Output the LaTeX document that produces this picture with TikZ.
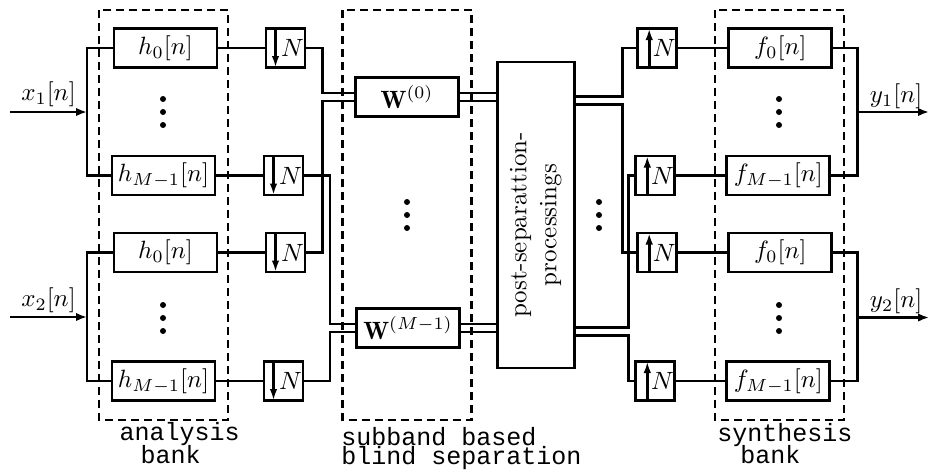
\documentclass[tikz,border=0pt]{standalone}
\usepackage{amsmath,amssymb}
\usepackage{fontspec}
\setmonofont{Liberation Mono}
\usepackage{tikz}
\usetikzlibrary{arrows.meta,positioning,calc}

\begin{document}
\begin{tikzpicture}[x=0.4pt,y=-0.4pt,line width=1.15pt,>={Latex[length=4.4pt,width=3.4pt]},
  filt/.style={draw,minimum width=41.2pt,minimum height=15.6pt,inner sep=1pt},
  wbox/.style={draw,minimum width=41.4pt,minimum height=15.4pt,inner sep=1pt},
  dnsamp/.style={draw,minimum height=15.6pt,inner sep=0.4pt,text width=14.8pt,align=right,
    path picture={\draw[-{Latex[length=4.6pt,width=3pt]},line width=1.1pt]
      ([xshift=3.8pt]path picture bounding box.north west) -- ([xshift=3.8pt]path picture bounding box.south west);}},
  upsamp/.style={draw,minimum height=15.6pt,inner sep=0.4pt,text width=14.8pt,align=right,
    path picture={\draw[-{Latex[length=4.6pt,width=3pt]},line width=1.1pt]
      ([xshift=4.6pt]path picture bounding box.south west) -- ([xshift=4.6pt]path picture bounding box.north west);}},
  bankbox/.style={draw,dash pattern=on 3.2pt off 2pt},
  banklbl/.style={font=\ttfamily,align=left,inner sep=0pt,anchor=base west}]
  \useasboundingbox (0,0) rectangle (930,474);

  % dashed banks
  \draw[bankbox] (99,10) rectangle (228,420);
  \draw[bankbox] (342.7,10) rectangle (471.7,420);
  \draw[bankbox] (715,10) rectangle (844,420);

  % analysis filters and decimators
  \node[filt] (ha0) at (165.5,48) {$h_0[n]$};
  \node[filt] (ha1) at (163.5,175.5) {$h_{M-1}[n]$};
  \node[filt] (hb0) at (165.5,252.5) {$h_0[n]$};
  \node[filt] (hb1) at (163.5,381) {$h_{M-1}[n]$};
  \node[dnsamp] (da0) at (285.5,48) {$N$};
  \node[dnsamp] (da1) at (283.5,175.5) {$N$};
  \node[dnsamp] (db0) at (285.5,252.5) {$N$};
  \node[dnsamp] (db1) at (283.5,381) {$N$};

  % separation and post processing
  \node[wbox] (w0) at (407,97) {$\mathbf{W}^{(0)}$};
  \node[wbox] (wm) at (408,328) {$\mathbf{W}^{(M-1)}$};
  \node[draw,rotate=90,minimum width=122.4pt,minimum height=30.8pt,align=center] (post) at (535.7,215)
    {post-separattion-\hspace*{8pt}\\processings\hspace*{8pt}};

  % expanders and synthesis filters
  \node[upsamp] (ua0) at (657.2,48) {$N$};
  \node[upsamp] (ua1) at (655.3,175.5) {$N$};
  \node[upsamp] (ub0) at (657.2,252.5) {$N$};
  \node[upsamp] (ub1) at (655.3,381) {$N$};
  \node[filt] (fa0) at (780.3,48) {$f_0[n]$};
  \node[filt] (fa1) at (778.3,175.5) {$f_{M-1}[n]$};
  \node[filt] (fb0) at (780.3,252.5) {$f_0[n]$};
  \node[filt] (fb1) at (778.3,381) {$f_{M-1}[n]$};

  % inputs
  \coordinate (xin1) at (10,112);
  \coordinate (sa) at (87,112);
  \coordinate (xin2) at (10,317);
  \coordinate (sb) at (87,317);
  \node (lx1) at (48.5,94) {$x_1[n]$};
  \node (lx2) at (48.5,300) {$x_2[n]$};
  \draw[->] (xin1) -- (sa);
  \draw[->] (xin2) -- (sb);
  \draw (ha0.west) -| (sa) |- (ha1.west);
  \draw (hb0.west) -| (sb) |- (hb1.west);
  \draw (ha0) -- (da0);
  \draw (ha1) -- (da1);
  \draw (hb0) -- (db0);
  \draw (hb1) -- (db1);

  % to the separators
  \coordinate (ja) at (322.7,0);
  \coordinate (jb) at (330,0);
  \draw (da0.east) -- (da0.east -| ja) |- ([yshift=1.6pt]w0.west);
  \draw (db0.east) -- (db0.east -| ja) |- ([yshift=-1.6pt]w0.west);
  \draw (da1.east) -- (da1.east -| jb) |- ([yshift=1.6pt]wm.west);
  \draw (db1.east) -- (db1.east -| jb) |- ([yshift=-1.6pt]wm.west);
  % post is turned: its north is on the left, its south on the right
  \draw ([yshift=1.6pt]w0.east) -- ([yshift=1.6pt]w0.east -| post.north);
  \draw ([yshift=-1.6pt]w0.east) -- ([yshift=-1.6pt]w0.east -| post.north);
  \draw ([yshift=1.6pt]wm.east) -- ([yshift=1.6pt]wm.east -| post.north);
  \draw ([yshift=-1.6pt]wm.east) -- ([yshift=-1.6pt]wm.east -| post.north);

  % to the expanders
  \coordinate (jc) at (622.7,0);
  \coordinate (jd) at (628.3,0);
  \draw ([yshift=0.2pt]w0.east -| post.south) -- ([yshift=0.2pt]w0.east -| jc) |- (ua0.west);
  \draw ([yshift=-2.9pt]w0.east -| post.south) -- ([yshift=-2.9pt]w0.east -| jc) |- (ub0.west);
  \draw ([yshift=0.2pt]wm.east -| post.south) -- ([yshift=0.2pt]wm.east -| jd) |- (ua1.west);
  \draw ([yshift=-2.9pt]wm.east -| post.south) -- ([yshift=-2.9pt]wm.east -| jd) |- (ub1.west);
  \draw (ua0) -- (fa0);
  \draw (ua1) -- (fa1);
  \draw (ub0) -- (fb0);
  \draw (ub1) -- (fb1);

  % outputs
  \coordinate (sy1) at (857.7,112);
  \coordinate (yout1) at (929,112);
  \coordinate (sy2) at (857.7,317.5);
  \coordinate (yout2) at (929,317.5);
  \draw (fa0.east) -| (sy1) |- (fa1.east);
  \draw (fb0.east) -| (sy2) |- (fb1.east);
  \draw[->] (sy1) -- (yout1);
  \draw[->] (sy2) -- (yout2);
  \node (ly1) at (896,96.5) {$y_1[n]$};
  \node (ly2) at (896,301) {$y_2[n]$};

  % dots
  \foreach \yy in {99,112,125,305,318,331} {
    \fill (163,\yy) circle (1.2pt);
    \fill (779,\yy) circle (1.2pt);
  }
  \foreach \yy in {202,215,228} {
    \fill (407,\yy) circle (1.2pt);
    \fill (599,\yy) circle (1.2pt);
  }

  % bank names
  \node[banklbl] (lana) at (118.3,463.3) {analysis\\[-3pt]\hspace*{8.4pt}bank};
  \node[banklbl] (lsep) at (340,464) {subband based\\[-4.4pt]blind separation};
  \node[banklbl] (lsyn) at (716,463.3) {synthesis\\[-3.2pt]\hspace*{9.2pt}bank};
\end{tikzpicture}
\end{document}
